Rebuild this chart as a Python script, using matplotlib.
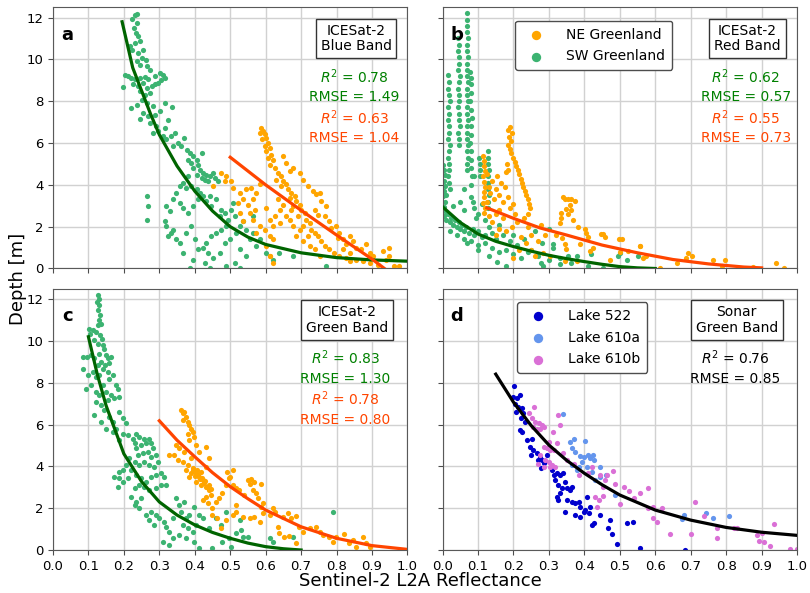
import matplotlib
matplotlib.use("Agg")
import matplotlib.pyplot as plt

# ---------------- panel a : ICESat-2 blue band ----------------
a_sw_x = [0.231, 0.238, 0.224, 0.236, 0.228, 0.234, 0.240, 0.245, 0.231, 0.217, 0.224, 0.254, 0.240, 0.250, 0.262,
          0.236, 0.245, 0.264, 0.273, 0.203, 0.212, 0.221, 0.231, 0.245, 0.259, 0.268, 0.287, 0.301, 0.311, 0.315,
          0.306, 0.198, 0.226, 0.240, 0.254, 0.264, 0.278, 0.287, 0.297, 0.245, 0.259, 0.273, 0.250, 0.264, 0.219,
          0.236, 0.283, 0.315, 0.337, 0.254, 0.269, 0.287, 0.301, 0.245, 0.273, 0.292, 0.315, 0.325, 0.297, 0.283,
          0.309, 0.334, 0.344, 0.320, 0.339, 0.353, 0.369, 0.362, 0.377, 0.386, 0.395, 0.381, 0.405, 0.419, 0.390,
          0.409, 0.395, 0.414, 0.423, 0.433, 0.405, 0.419, 0.428, 0.442, 0.451, 0.437, 0.456, 0.466, 0.381, 0.367,
          0.358, 0.376, 0.390, 0.405, 0.414, 0.348, 0.339, 0.320, 0.329, 0.315, 0.358, 0.367, 0.381, 0.395, 0.409,
          0.423, 0.433, 0.442, 0.446, 0.461, 0.475, 0.470, 0.484, 0.494, 0.503, 0.513, 0.489, 0.475, 0.461, 0.446,
          0.433, 0.423, 0.437, 0.451, 0.428, 0.442, 0.386, 0.367, 0.358, 0.376, 0.390, 0.400, 0.409, 0.395, 0.470,
          0.484, 0.498, 0.517, 0.527, 0.536, 0.545, 0.555, 0.564, 0.527, 0.513, 0.545, 0.573, 0.583, 0.602, 0.621,
          0.527, 0.489, 0.264, 0.269, 0.266, 0.320, 0.334, 0.348, 0.339, 0.325, 0.771, 0.639, 0.677, 0.564, 0.508]
a_sw_y = [12.14, 12.19, 11.93, 11.74, 11.50, 11.27, 11.10, 10.87, 10.79, 10.63, 10.47, 10.47, 10.31, 10.07, 9.99,
          9.91, 9.75, 9.67, 9.51, 9.23, 9.19, 9.11, 9.07, 9.11, 9.16, 9.07, 9.19, 9.35, 9.27, 9.11,
          9.03, 8.68, 8.80, 8.72, 8.88, 8.64, 8.72, 8.80, 8.88, 8.48, 8.32, 8.40, 8.08, 7.92, 7.68,
          7.84, 7.76, 7.92, 7.73, 7.44, 7.28, 7.36, 7.52, 7.15, 6.96, 6.80, 6.72, 7.12, 6.56, 6.48,
          6.33, 6.33, 6.48, 6.17, 5.85, 6.01, 6.25, 5.85, 5.69, 5.53, 5.37, 5.21, 5.21, 5.50, 5.05,
          4.97, 4.81, 4.73, 4.57, 4.49, 4.49, 4.33, 4.25, 4.41, 4.57, 4.17, 4.33, 4.17, 4.41, 4.09,
          3.94, 3.86, 3.94, 3.78, 3.62, 3.62, 3.30, 2.98, 2.74, 2.26, 3.14, 2.90, 2.66, 2.98, 3.30,
          3.46, 3.22, 3.46, 2.98, 3.30, 2.82, 2.50, 2.66, 2.34, 2.82, 2.50, 2.02, 1.86, 1.70, 1.55,
          1.23, 0.99, 0.75, 0.51, 0.27, 0.03, 0.03, 0.75, 1.23, 1.70, 2.02, 1.39, 0.91, 0.43, 0.75,
          1.23, 1.39, 1.70, 2.02, 2.26, 1.86, 1.39, 1.70, 0.91, 0.27, 0.59, 1.07, 1.39, 0.75, 0.43,
          0.03, 0.11, 3.46, 2.98, 2.34, 2.02, 1.70, 1.39, 1.86, 1.55, 0.11, 0.75, 0.59, 2.50, 3.14]
a_ne_x = [0.588, 0.593, 0.583, 0.597, 0.602, 0.591, 0.607, 0.597, 0.611, 0.602, 0.616, 0.607, 0.621, 0.611, 0.625,
          0.635, 0.644, 0.630, 0.649, 0.658, 0.644, 0.663, 0.672, 0.682, 0.668, 0.686, 0.696, 0.677, 0.700, 0.710,
          0.691, 0.715, 0.724, 0.705, 0.729, 0.738, 0.748, 0.719, 0.757, 0.766, 0.780, 0.794, 0.808, 0.827, 0.837,
          0.855, 0.874, 0.893, 0.917, 0.940, 0.949, 0.963, 0.977, 0.649, 0.658, 0.668, 0.677, 0.696, 0.705, 0.719,
          0.733, 0.743, 0.752, 0.757, 0.771, 0.738, 0.748, 0.766, 0.780, 0.785, 0.799, 0.808, 0.804, 0.818, 0.827,
          0.837, 0.846, 0.855, 0.837, 0.818, 0.870, 0.884, 0.893, 0.902, 0.930, 0.949, 0.672, 0.658, 0.649, 0.635,
          0.640, 0.625, 0.602, 0.611, 0.597, 0.621, 0.640, 0.668, 0.677, 0.696, 0.686, 0.705, 0.724, 0.738, 0.752,
          0.611, 0.621, 0.564, 0.574, 0.560, 0.569, 0.583, 0.475, 0.489, 0.503, 0.485, 0.508, 0.527, 0.545, 0.536,
          0.522, 0.550, 0.555, 0.527, 0.536, 0.564, 0.583, 0.573, 0.611, 0.602, 0.621, 0.611, 0.451]
a_ne_y = [6.72, 6.56, 6.49, 6.41, 6.25, 6.17, 6.01, 5.85, 5.77, 5.61, 5.45, 5.29, 5.21, 4.97, 4.81,
          4.57, 4.41, 4.25, 4.17, 4.02, 3.94, 3.78, 3.62, 3.46, 3.38, 3.22, 3.06, 2.98, 2.82, 2.66,
          2.50, 2.34, 2.18, 2.02, 1.86, 1.70, 1.55, 1.55, 1.31, 1.07, 0.91, 0.75, 0.59, 0.51, 0.35,
          0.43, 0.35, 0.27, 0.19, 0.43, 0.59, 0.14, 0.11, 5.37, 5.05, 4.65, 4.81, 4.57, 4.25, 3.94,
          3.70, 3.54, 3.62, 3.22, 2.98, 2.82, 2.58, 2.50, 2.26, 1.94, 2.02, 1.70, 1.47, 1.39, 1.15,
          1.55, 1.31, 0.99, 0.75, 0.91, 0.91, 1.15, 0.75, 0.59, 0.83, 0.99, 2.82, 2.50, 3.06, 3.30,
          2.82, 2.50, 2.90, 2.34, 1.86, 2.02, 2.18, 2.34, 2.02, 1.86, 1.55, 1.31, 1.07, 0.91, 0.59,
          0.59, 0.27, 3.30, 3.62, 3.86, 2.82, 4.02, 4.57, 4.41, 4.17, 4.17, 3.86, 3.62, 3.78, 3.30,
          3.14, 3.06, 2.66, 2.66, 2.26, 2.34, 2.02, 1.70, 1.55, 1.07, 1.39, 0.59, 3.94]
a_sw_fit_x = [0.195, 0.225, 0.25, 0.275, 0.30, 0.35, 0.40, 0.45, 0.50, 0.55, 0.60, 0.70, 0.80, 0.90, 1.00]
a_sw_fit_y = [11.8, 9.6, 8.5, 7.4, 6.4, 4.9, 3.7, 2.75, 2.0, 1.5, 1.15, 0.75, 0.52, 0.41, 0.35]
a_ne_fit_x = [0.50, 0.60, 0.70, 0.80, 0.90, 0.935]
a_ne_fit_y = [5.32, 4.0, 2.78, 1.6, 0.45, 0.0]

# ---------------- panel b : ICESat-2 red band ----------------
b_sw_x = [0.002, 0.004, 0.006, 0.003, 0.008, 0.005, 0.002, 0.007, 0.004, 0.009,
          0.016, 0.018, 0.015, 0.017, 0.020, 0.016, 0.018, 0.015, 0.019, 0.017, 0.016, 0.020, 0.018, 0.015,
          0.017, 0.019, 0.016, 0.018, 0.020,
          0.044, 0.046, 0.043, 0.047, 0.045, 0.044, 0.048, 0.045, 0.043, 0.046, 0.047, 0.044, 0.045, 0.046,
          0.048, 0.044, 0.045, 0.047,
          0.068, 0.069, 0.070, 0.068, 0.071, 0.069, 0.070, 0.072, 0.068, 0.070, 0.069, 0.071, 0.070, 0.068,
          0.072, 0.069, 0.070, 0.071, 0.068, 0.070, 0.069, 0.071, 0.070, 0.072, 0.069, 0.070,
          0.078, 0.080, 0.079, 0.081, 0.078, 0.080, 0.082, 0.079, 0.080, 0.078, 0.081, 0.080, 0.079, 0.082, 0.080,
          0.104, 0.106, 0.105, 0.107,
          0.128, 0.129, 0.127, 0.130, 0.128, 0.129, 0.127, 0.130, 0.128, 0.129,
          0.005, 0.010, 0.015, 0.020, 0.025, 0.030, 0.035, 0.040, 0.045, 0.050, 0.055, 0.060, 0.065, 0.075,
          0.085, 0.090, 0.100, 0.110, 0.020, 0.040, 0.060, 0.080, 0.100, 0.120, 0.140, 0.150, 0.160, 0.180,
          0.200, 0.220, 0.240, 0.030, 0.050, 0.060, 0.080, 0.090, 0.100, 0.120, 0.130, 0.140, 0.170, 0.190,
          0.210, 0.230, 0.250, 0.270, 0.130, 0.155, 0.180, 0.300, 0.330, 0.100, 0.070, 0.160, 0.200, 0.260,
          0.300, 0.280, 0.060, 0.090, 0.085, 0.110, 0.095, 0.120, 0.000, 0.010,
          0.279, 0.283, 0.312, 0.312, 0.330, 0.354, 0.363, 0.378, 0.420, 0.410, 0.453, 0.495, 0.519, 0.552, 0.500]
b_sw_y = [4.95, 4.70, 4.45, 4.20, 3.95, 3.70, 3.45, 3.20, 2.95, 2.70,
          9.25, 8.90, 8.60, 8.30, 8.00, 7.70, 7.40, 7.10, 6.80, 6.50, 6.20, 5.90, 5.60, 5.30,
          5.00, 4.70, 4.40, 4.10, 3.80,
          11.0, 10.7, 10.4, 10.1, 9.8, 9.5, 9.2, 8.9, 8.6, 8.3, 8.0, 7.7, 7.4, 7.1,
          6.8, 6.5, 6.2, 5.9,
          12.2, 11.9, 11.6, 11.3, 11.0, 10.7, 10.4, 10.1, 9.8, 9.5, 9.2, 8.9, 8.6, 8.3,
          8.0, 7.7, 7.4, 7.1, 6.8, 6.5, 6.2, 5.9, 5.6, 5.3, 5.0, 4.7,
          9.4, 9.1, 8.8, 8.4, 8.0, 7.6, 7.2, 6.8, 6.4, 6.0, 5.6, 5.2, 4.8, 4.4, 4.0,
          5.3, 5.0, 4.7, 4.4,
          5.6, 5.3, 5.0, 4.7, 4.4, 4.1, 3.8, 3.5, 3.2, 2.9,
          2.5, 2.3, 2.6, 2.2, 2.4, 2.1, 2.3, 2.0, 2.2, 1.9, 2.1, 1.8, 2.0, 1.7,
          1.9, 1.6, 1.8, 1.5, 1.8, 1.6, 1.4, 1.3, 1.1, 1.2, 1.0, 1.4, 0.8, 0.9,
          0.7, 0.5, 0.8, 3.0, 3.2, 2.8, 3.4, 2.9, 2.6, 2.3, 2.0, 1.7, 1.6, 1.3,
          1.1, 1.4, 0.9, 0.6, 0.6, 0.3, 0.1, 0.4, 0.2, 0.9, 1.2, 2.1, 1.6, 1.8,
          1.9, 1.2, 3.8, 4.4, 3.2, 3.1, 2.4, 1.6, 2.8, 3.5,
          0.24, 0.11, 1.15, 0.99, 0.51, 0.59, 0.24, 0.59, 0.67, 0.11, 0.03, 0.59, 0.43, 0.59, 0.75]
b_ne_x = [0.115, 0.118, 0.116, 0.119, 0.115, 0.117, 0.120, 0.116, 0.118, 0.115, 0.119, 0.117,
          0.125, 0.130, 0.135, 0.140, 0.145, 0.150, 0.155, 0.160, 0.165, 0.170, 0.175, 0.180, 0.160, 0.150,
          0.140, 0.130, 0.125, 0.170, 0.185, 0.190, 0.200, 0.205, 0.210, 0.195, 0.180, 0.220, 0.160, 0.150,
          0.235, 0.250, 0.260, 0.200, 0.215, 0.240, 0.250, 0.270,
          0.190, 0.185, 0.195, 0.188, 0.192, 0.186, 0.190, 0.194, 0.198, 0.203, 0.208, 0.212, 0.216, 0.220,
          0.224, 0.228, 0.232, 0.236, 0.240, 0.243, 0.246, 0.240, 0.230, 0.182, 0.186,
          0.340, 0.345, 0.354, 0.363, 0.373, 0.359, 0.349, 0.363, 0.335, 0.354, 0.335, 0.368, 0.330, 0.382,
          0.401, 0.406, 0.279, 0.288, 0.321, 0.338, 0.345, 0.387, 0.410, 0.446, 0.459, 0.498, 0.415, 0.425,
          0.472, 0.500, 0.524, 0.557, 0.566, 0.575, 0.660, 0.693, 0.705, 0.764, 0.797, 0.787, 0.877, 0.942,
          0.963, 0.613, 0.283, 0.349, 0.378, 0.345, 0.302, 0.688, 0.556, 0.505, 0.453]
b_ne_y = [5.40, 5.15, 4.90, 4.65, 4.40, 4.15, 3.90, 3.65, 3.40, 3.15, 2.90, 2.65,
          4.5, 3.9, 3.6, 4.2, 3.3, 3.8, 4.4, 3.5, 4.1, 3.2, 3.9, 4.6, 2.8, 2.6,
          2.2, 2.5, 3.2, 2.4, 3.4, 2.9, 3.1, 2.6, 2.2, 2.0, 1.8, 1.5, 1.9, 1.6,
          1.2, 0.9, 0.6, 0.5, 0.9, 2.0, 1.6, 1.3,
          6.75, 6.60, 6.50, 6.30, 6.10, 5.90, 5.70, 5.50, 5.30, 5.10, 4.90, 4.70, 4.50, 4.30,
          4.10, 3.90, 3.70, 3.50, 3.30, 3.10, 2.90, 2.60, 2.40, 5.00, 4.70,
          3.43, 3.33, 3.30, 3.30, 3.22, 3.06, 2.85, 2.82, 2.66, 2.63, 2.42, 2.31, 2.18, 1.99,
          1.91, 1.70, 2.10, 1.58, 1.58, 1.47, 1.15, 1.15, 1.50, 1.63, 1.50, 1.39, 0.83, 0.99,
          0.40, 0.78, 0.83, 1.07, 0.51, 0.59, 0.27, 0.75, 0.59, 0.43, 0.43, 0.11, 0.08, 0.27,
          0.03, 0.03, 0.75, 0.91, 0.35, 0.35, 0.59, 0.51, 1.07, 1.39, 1.63]
b_sw_fit_x = [0.0, 0.05, 0.10, 0.15, 0.20, 0.25, 0.30, 0.35, 0.40, 0.45, 0.50, 0.55, 0.60]
b_sw_fit_y = [2.95, 2.2, 1.65, 1.3, 1.05, 0.83, 0.63, 0.47, 0.33, 0.2, 0.09, 0.03, 0.0]
b_ne_fit_x = [0.125, 0.20, 0.275, 0.35, 0.45, 0.55, 0.65, 0.75, 0.85, 0.90]
b_ne_fit_y = [2.9, 2.4, 1.94, 1.6, 1.12, 0.75, 0.43, 0.22, 0.07, 0.03]

# ---------------- panel c : ICESat-2 green band ----------------
c_sw_x = [0.126, 0.129, 0.123, 0.131, 0.127, 0.133, 0.129, 0.136, 0.126, 0.103, 0.112, 0.122, 0.105, 0.133, 0.138,
          0.117, 0.126, 0.140, 0.145, 0.084, 0.095, 0.108, 0.117, 0.131, 0.150, 0.154, 0.164, 0.159, 0.148, 0.136,
          0.126, 0.140, 0.084, 0.098, 0.112, 0.122, 0.131, 0.154, 0.159, 0.169, 0.178, 0.183, 0.092, 0.108, 0.120,
          0.131, 0.140, 0.150, 0.154, 0.164, 0.173, 0.187, 0.122, 0.136, 0.145, 0.117, 0.136, 0.159, 0.169, 0.187,
          0.197, 0.206, 0.178, 0.197, 0.150, 0.169, 0.187, 0.211, 0.225, 0.234, 0.244, 0.258, 0.272, 0.262, 0.248,
          0.234, 0.230, 0.277, 0.281, 0.267, 0.253, 0.239, 0.277, 0.291, 0.295, 0.286, 0.272, 0.258, 0.244, 0.230,
          0.215, 0.206, 0.220, 0.197, 0.187, 0.173, 0.187, 0.197, 0.183, 0.211, 0.234, 0.248, 0.262, 0.277, 0.291,
          0.305, 0.314, 0.319, 0.305, 0.291, 0.272, 0.258, 0.244, 0.230, 0.220, 0.234, 0.248, 0.230, 0.244, 0.262,
          0.277, 0.291, 0.272, 0.286, 0.300, 0.314, 0.319, 0.328, 0.338, 0.347, 0.356, 0.370, 0.361, 0.375, 0.385,
          0.399, 0.413, 0.422, 0.403, 0.394, 0.380, 0.366, 0.356, 0.338, 0.309, 0.328, 0.375, 0.399, 0.413, 0.441,
          0.460, 0.474, 0.488, 0.497, 0.478, 0.450, 0.503, 0.517, 0.531, 0.536, 0.527, 0.550, 0.611, 0.621, 0.677,
          0.790]
c_sw_y = [12.18, 12.02, 11.86, 11.70, 11.46, 11.23, 10.99, 10.83, 10.75, 10.59, 10.51, 10.43, 10.35, 10.27, 10.11,
          10.03, 9.87, 9.79, 9.63, 9.24, 9.24, 9.32, 9.16, 9.39, 9.32, 9.16, 9.24, 8.92, 8.84, 9.00,
          8.84, 8.68, 8.68, 8.36, 8.52, 8.28, 8.39, 8.52, 8.20, 8.36, 7.88, 7.72, 7.69, 7.88, 7.56,
          7.40, 7.88, 7.56, 7.17, 7.40, 7.25, 7.32, 7.09, 6.93, 6.69, 6.45, 6.13, 6.37, 6.13, 6.61,
          6.29, 6.05, 5.81, 5.57, 5.81, 5.65, 5.25, 5.49, 5.33, 5.57, 5.41, 5.33, 5.33, 5.10, 5.02,
          4.86, 5.10, 5.10, 4.86, 4.70, 4.62, 4.54, 4.46, 4.54, 4.22, 3.98, 4.06, 4.22, 4.06, 4.22,
          4.38, 4.06, 3.82, 3.82, 3.74, 3.50, 3.42, 3.26, 3.03, 3.42, 3.58, 3.42, 3.26, 3.50, 3.58,
          3.66, 3.50, 3.11, 3.11, 2.95, 2.87, 3.03, 3.11, 2.95, 2.55, 2.31, 2.47, 2.15, 1.99, 1.67,
          1.83, 1.67, 1.43, 1.19, 1.51, 1.35, 1.11, 0.88, 1.51, 2.47, 2.15, 2.31, 1.83, 1.51, 1.67,
          2.07, 1.67, 1.51, 1.19, 0.88, 1.04, 1.19, 0.72, 0.56, 0.40, 0.24, 0.56, 0.40, 0.08, 1.04,
          1.51, 1.19, 1.83, 0.56, 0.40, 0.08, 0.16, 0.80, 0.96, 0.64, 1.43, 0.64, 0.56, 0.40, 0.64,
          1.83]
c_ne_x = [0.361, 0.366, 0.370, 0.375, 0.380, 0.366, 0.385, 0.389, 0.394, 0.380, 0.399, 0.385, 0.347, 0.356, 0.370,
          0.342, 0.328, 0.352, 0.366, 0.380, 0.375, 0.394, 0.403, 0.413, 0.422, 0.417, 0.431, 0.441, 0.446, 0.431,
          0.422, 0.436, 0.450, 0.460, 0.469, 0.478, 0.488, 0.497, 0.492, 0.507, 0.516, 0.385, 0.403, 0.417, 0.431,
          0.441, 0.413, 0.431, 0.403, 0.389, 0.450, 0.464, 0.474, 0.488, 0.507, 0.516,
          0.390, 0.400, 0.410, 0.420, 0.430, 0.440, 0.395, 0.405, 0.415, 0.425, 0.435, 0.445,
          0.498, 0.508, 0.526, 0.540, 0.550, 0.555, 0.559, 0.568, 0.564, 0.573, 0.587, 0.578, 0.592, 0.587, 0.517,
          0.536, 0.555, 0.568, 0.583, 0.592, 0.611, 0.620, 0.625, 0.634, 0.648, 0.663, 0.672, 0.686, 0.639, 0.653,
          0.667, 0.686, 0.695, 0.705, 0.724, 0.742, 0.752, 0.761, 0.780, 0.789, 0.799, 0.822, 0.836, 0.846, 0.874,
          0.883, 0.893, 0.855]
c_ne_y = [6.69, 6.53, 6.61, 6.37, 6.13, 6.21, 5.97, 5.81, 5.65, 5.57, 5.41, 5.25, 5.02, 4.86, 4.70,
          4.54, 4.54, 4.30, 4.22, 4.06, 3.82, 3.82, 3.66, 3.50, 3.34, 3.11, 3.03, 2.87, 2.63, 2.55,
          2.39, 2.23, 1.99, 2.31, 2.47, 2.71, 3.11, 3.42, 3.74, 3.82, 2.95, 3.50, 3.26, 3.74, 3.98,
          4.38, 4.70, 4.94, 5.02, 4.38, 1.67, 1.51, 1.04, 1.43, 1.67, 2.15,
          3.70, 3.55, 3.60, 3.45, 3.30, 3.10, 3.90, 3.85, 3.40, 3.20, 3.00, 2.90,
          3.50, 3.10, 2.87, 2.63, 3.34, 3.18, 3.38, 3.26, 2.87, 2.71, 3.18, 2.47, 2.23, 2.07, 1.83,
          1.59, 1.51, 1.59, 1.35, 1.75, 1.67, 1.99, 1.83, 1.11, 1.59, 1.75, 1.51, 1.62, 0.80, 0.64,
          0.67, 0.32, 1.11, 0.88, 1.04, 1.11, 0.88, 0.72, 0.64, 0.40, 0.64, 0.76, 0.32, 0.48, 0.60,
          0.32, 0.16, 0.16]
c_sw_fit_x = [0.10, 0.125, 0.15, 0.20, 0.25, 0.30, 0.35, 0.40, 0.45, 0.50, 0.55, 0.60, 0.65, 0.70]
c_sw_fit_y = [10.2, 8.4, 6.9, 4.6, 3.27, 2.3, 1.67, 1.2, 0.84, 0.56, 0.33, 0.16, 0.06, 0.0]
c_ne_fit_x = [0.30, 0.35, 0.40, 0.45, 0.50, 0.55, 0.60, 0.70, 0.80, 0.90, 1.00]
c_ne_fit_y = [6.18, 5.25, 4.46, 3.7, 3.03, 2.45, 1.91, 1.11, 0.56, 0.21, 0.03]

# ---------------- panel d : sonar green band ----------------
lake522_x = [0.202, 0.198, 0.209, 0.218, 0.205, 0.214, 0.224, 0.207, 0.228, 0.221, 0.233, 0.219, 0.224, 0.238, 0.252,
             0.247, 0.256, 0.249, 0.266, 0.275, 0.268, 0.280, 0.277, 0.285, 0.294, 0.308, 0.313, 0.322, 0.332, 0.341,
             0.318, 0.327, 0.337, 0.346, 0.351, 0.360, 0.365, 0.322, 0.332, 0.327, 0.351, 0.365, 0.374, 0.384, 0.388,
             0.346, 0.374, 0.388, 0.398, 0.407, 0.402, 0.412, 0.417, 0.421, 0.426, 0.445, 0.473, 0.468, 0.478, 0.492,
             0.520, 0.537, 0.558, 0.685]
lake522_y = [7.83, 7.32, 7.29, 7.40, 7.00, 6.85, 6.77, 6.60, 6.53, 6.29, 6.13, 5.73, 5.65, 5.25, 5.33,
             4.94, 4.78, 4.54, 4.62, 4.46, 4.30, 4.30, 3.90, 4.14, 4.54, 3.82, 3.58, 3.66, 3.58, 3.66,
             3.34, 3.10, 2.95, 3.26, 2.95, 2.87, 3.03, 2.55, 2.71, 2.39, 2.39, 2.31, 2.23, 2.31, 2.07,
             1.83, 1.67, 1.59, 1.83, 2.55, 1.91, 1.75, 2.07, 1.19, 1.27, 1.67, 1.43, 1.04, 0.75, 0.29,
             1.27, 1.32, 0.11, 0.02]
lake610a_x = [0.341, 0.360, 0.372, 0.402, 0.365, 0.375, 0.388, 0.398, 0.409, 0.417, 0.428, 0.424, 0.393, 0.384,
              0.445, 0.365, 0.379, 0.407, 0.421, 0.431, 0.445, 0.461, 0.487, 0.680, 0.744, 0.807, 0.676, 0.764]
lake610a_y = [6.50, 5.18, 5.30, 5.22, 4.86, 4.70, 4.49, 4.46, 4.54, 4.38, 4.30, 4.54, 4.22, 3.98,
              3.98, 4.06, 3.82, 3.98, 3.74, 3.34, 3.50, 3.58, 2.63, 1.67, 1.75, 1.64, 1.46, 1.55]
lake610b_x = [0.259, 0.245, 0.252, 0.261, 0.271, 0.280, 0.256, 0.266, 0.275, 0.285, 0.327, 0.332, 0.311, 0.299,
              0.322, 0.285, 0.294, 0.304, 0.313, 0.275, 0.289, 0.299, 0.308, 0.318, 0.268, 0.285, 0.304, 0.341,
              0.351, 0.372, 0.384, 0.409, 0.421, 0.445, 0.464, 0.459, 0.454, 0.480, 0.487, 0.511, 0.525, 0.539,
              0.558, 0.580, 0.431, 0.440, 0.435, 0.454, 0.501, 0.580, 0.595, 0.619, 0.595, 0.604, 0.642, 0.702,
              0.711, 0.737, 0.774, 0.774, 0.821, 0.830, 0.887, 0.892, 0.906, 0.925, 0.934, 0.981, 1.000, 0.900]
lake610b_y = [6.85, 6.53, 6.29, 6.13, 6.05, 5.97, 5.89, 5.81, 5.81, 5.89, 6.45, 5.97, 5.65, 5.18,
              5.13, 4.94, 4.86, 4.78, 4.78, 4.54, 4.30, 4.22, 4.06, 3.98, 4.11, 3.98, 3.98, 4.62,
              4.30, 4.11, 3.58, 3.66, 3.98, 3.58, 3.58, 3.34, 3.03, 3.77, 3.18, 2.99, 2.83, 2.47,
              2.75, 2.95, 2.52, 2.39, 2.07, 2.60, 2.20, 1.99, 2.07, 1.99, 1.51, 1.35, 0.76, 0.76,
              2.28, 1.64, 0.59, 1.04, 1.07, 1.04, 0.72, 0.45, 0.40, 0.19, 1.23, 0.03, 0.03, 0.80]
d_fit_x = [0.15, 0.20, 0.25, 0.30, 0.35, 0.40, 0.45, 0.50, 0.60, 0.70, 0.80, 0.90, 1.00]
d_fit_y = [8.41, 7.07, 5.95, 5.02, 4.29, 3.67, 3.12, 2.63, 1.91, 1.43, 1.08, 0.85, 0.70]

# stats text per panel
a_stats = [("$R^2$ = 0.78", "green"), ("RMSE = 1.49", "green"), ("$R^2$ = 0.63", "orangered"), ("RMSE = 1.04", "orangered")]
b_stats = [("$R^2$ = 0.62", "green"), ("RMSE = 0.57", "green"), ("$R^2$ = 0.55", "orangered"), ("RMSE = 0.73", "orangered")]
c_stats = [("$R^2$ = 0.83", "green"), ("RMSE = 1.30", "green"), ("$R^2$ = 0.78", "orangered"), ("RMSE = 0.80", "orangered")]
d_stats = [("$R^2$ = 0.76", "black"), ("RMSE = 0.85", "black")]

SW_COL = "mediumseagreen"
NE_COL = "orange"
SW_LINE = "darkgreen"
NE_LINE = "orangered"
MS = 14

fig, axes = plt.subplots(2, 2, figsize=(8.1, 5.93), dpi=100, sharex=True, sharey=True)
fig.subplots_adjust(left=0.0654, right=0.984, top=0.988, bottom=0.0725, wspace=0.099, hspace=0.077)
ax_a, ax_b = axes[0]
ax_c, ax_d = axes[1]


def icesat_panel(ax, sw_x, sw_y, ne_x, ne_y, swf_x, swf_y, nef_x, nef_y):
    ax.scatter(sw_x, sw_y, s=MS, color=SW_COL, linewidths=0, label="SW Greenland", zorder=2)
    ax.scatter(ne_x, ne_y, s=MS, color=NE_COL, linewidths=0, label="NE Greenland", zorder=2)
    ax.plot(swf_x, swf_y, color=SW_LINE, lw=2.3, zorder=3)
    ax.plot(nef_x, nef_y, color=NE_LINE, lw=2.3, zorder=3)


icesat_panel(ax_a, a_sw_x, a_sw_y, a_ne_x, a_ne_y, a_sw_fit_x, a_sw_fit_y, a_ne_fit_x, a_ne_fit_y)
icesat_panel(ax_b, b_sw_x, b_sw_y, b_ne_x, b_ne_y, b_sw_fit_x, b_sw_fit_y, b_ne_fit_x, b_ne_fit_y)
icesat_panel(ax_c, c_sw_x, c_sw_y, c_ne_x, c_ne_y, c_sw_fit_x, c_sw_fit_y, c_ne_fit_x, c_ne_fit_y)

ax_d.scatter(lake522_x, lake522_y, s=MS, color="mediumblue", linewidths=0, label="Lake 522", zorder=2)
ax_d.scatter(lake610a_x, lake610a_y, s=MS, color="cornflowerblue", linewidths=0, label="Lake 610a", zorder=2)
ax_d.scatter(lake610b_x, lake610b_y, s=MS, color="orchid", linewidths=0, label="Lake 610b", zorder=2)
ax_d.plot(d_fit_x, d_fit_y, color="black", lw=2.3, zorder=3)

# legends
h, l = ax_b.get_legend_handles_labels()
ax_b.legend(h[::-1], l[::-1], loc="upper left", bbox_to_anchor=(0.185, 0.975), fontsize=10,
            markerscale=1.8, handletextpad=1.2, borderpad=0.5, labelspacing=0.55,
            framealpha=1, edgecolor="0.3", fancybox=True)
ax_d.legend(loc="upper left", bbox_to_anchor=(0.19, 0.975), fontsize=10,
            markerscale=1.8, handletextpad=1.2, borderpad=0.5, labelspacing=0.55,
            framealpha=1, edgecolor="0.3", fancybox=True)

panels = [(ax_a, "a", "ICESat-2\nBlue Band", a_stats, 0.855),
          (ax_b, "b", "ICESat-2\nRed Band", b_stats, 0.86),
          (ax_c, "c", "ICESat-2\nGreen Band", c_stats, 0.83),
          (ax_d, "d", "Sonar\nGreen Band", d_stats, 0.83)]
stat_rows = [0.735, 0.656, 0.577, 0.498]

for ax, letter, title, stats, cx in panels:
    ax.text(0.04, 0.895, letter, transform=ax.transAxes, fontsize=13, fontweight="bold",
            ha="center", va="center")
    ax.text(cx, 0.88, title, transform=ax.transAxes, fontsize=10, ha="center", va="center",
            linespacing=1.15,
            bbox=dict(boxstyle="square,pad=0.35", facecolor="white", edgecolor="0.2", linewidth=1))
    for (txt, col), yy in zip(stats, stat_rows):
        ax.text(cx - 0.005, yy, txt, transform=ax.transAxes, fontsize=10, color=col,
                ha="center", va="center")
    ax.grid(True, color="0.82", lw=1)
    ax.set_axisbelow(True)
    ax.tick_params(labelsize=9.5, color="0.3", length=3.5)
    for sp in ax.spines.values():
        sp.set_color("0.35")

ax_a.set_xlim(0, 1)
ax_a.set_ylim(0, 12.5)
ax_a.set_xticks([i / 10 for i in range(11)])
ax_a.set_xticklabels(["%.1f" % (i / 10) for i in range(11)])
ax_a.set_yticks(range(0, 13, 2))

fig.text(0.519, 0.012, "Sentinel-2 L2A Reflectance", ha="center", va="baseline", fontsize=13)
fig.text(0.022, 0.53, "Depth [m]", ha="center", va="center", rotation=90, fontsize=13)

fig.savefig("out.png", dpi=100)
